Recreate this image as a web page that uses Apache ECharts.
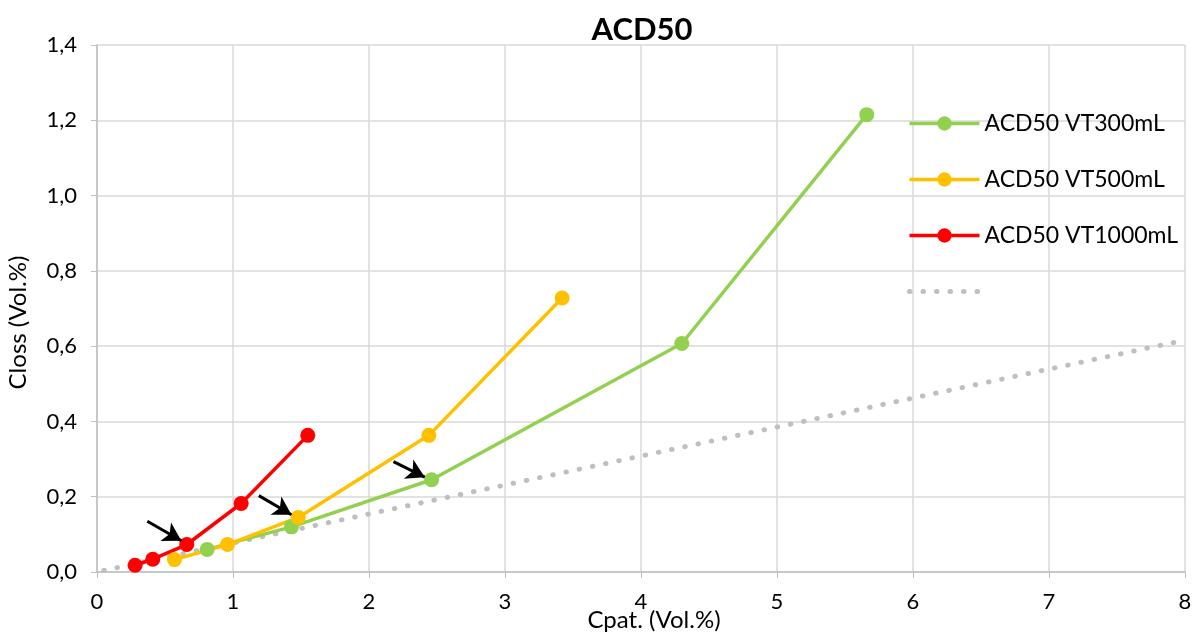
<!DOCTYPE html>
<html><head><meta charset="utf-8">
<script src="https://cdn.jsdelivr.net/npm/echarts@6/dist/echarts.min.js"></script>
<style>html,body{margin:0;padding:0;background:#fff}#c{width:1193px;height:636px}</style>
</head><body><div id="c"></div>
<script>
const seriesNames = ['ACD50 VT300mL', 'ACD50 VT500mL', 'ACD50 VT1000mL', ' '];
const vt300 = [[0.81, 0.06], [1.43, 0.12], [2.46, 0.245], [4.3, 0.607], [5.66, 1.215]];
const vt500 = [[0.57, 0.033], [0.96, 0.073], [1.48, 0.145], [2.44, 0.363], [3.42, 0.728]];
const vt1000 = [[0.28, 0.018], [0.41, 0.034], [0.66, 0.073], [1.06, 0.182], [1.55, 0.363]];
const refLine = [[0.05, 0.004], [8, 0.616]];
const arrows = [
  [[0.37, 0.135], [0.62, 0.083]],
  [[1.19, 0.203], [1.43, 0.152]],
  [[2.18, 0.293], [2.41, 0.252]]
];
const colors = ['#92d050', '#ffc000', '#ff0000', '#bfbfbf'];
const font = 'Lato, "Open Sans", sans-serif';

const chart = echarts.init(document.getElementById('c'));
const lineSeries = (name, data, color) => ({
  name, type: 'line', data, symbol: 'circle', symbolSize: 15,
  lineStyle: { color, width: 3.5 }, itemStyle: { color },
  z: 3
});
chart.setOption({
  animation: false,
  title: { text: 'ACD50', left: 637, textAlign: 'center', top: 9,
    textStyle: { fontFamily: font, fontSize: 31, fontWeight: 'bold', color: '#000' } },
  grid: { left: 97, right: 8, top: 45, bottom: 64, outerBoundsMode: 'none', containLabel: false },
  legend: {
    orient: 'vertical', left: 902, top: 107, itemWidth: 70, itemHeight: 18, itemGap: 33,
    textStyle: { fontFamily: font, fontSize: 23, color: '#000' },
    lineStyle: { width: 3.5 },
    data: seriesNames.slice(0, 3).concat([{ name: seriesNames[3], itemStyle: { color: 'transparent', opacity: 0 }, lineStyle: { width: 5 } }])
  },
  xAxis: {
    type: 'value', min: 0, max: 8, interval: 1,
    name: 'Cpat. (Vol.%)', nameLocation: 'middle', nameGap: 36, nameMoveOverlap: false,
    nameTextStyle: { fontFamily: font, fontSize: 24, color: '#000', padding: [0, 0, 0, 26] },
    axisLine: { lineStyle: { color: '#bfbfbf', width: 1.5 } },
    axisTick: { show: true, length: 6, lineStyle: { color: '#bfbfbf' } },
    axisLabel: { fontFamily: font, fontSize: 22, color: '#000', margin: 19 },
    splitLine: { show: true, lineStyle: { color: '#d9d9d9', width: 1.5 } }
  },
  yAxis: {
    type: 'value', min: 0, max: 1.4, interval: 0.2,
    name: 'Closs (Vol.%)', nameLocation: 'middle', nameGap: 67, nameRotate: 90, nameMoveOverlap: false,
    nameTextStyle: { fontFamily: font, fontSize: 24, color: '#000', padding: [0, 28, 0, 0] },
    axisLine: { show: true, lineStyle: { color: '#bfbfbf', width: 1.5 } },
    axisTick: { show: true, length: 6, lineStyle: { color: '#bfbfbf' } },
    axisLabel: { fontFamily: font, fontSize: 22, color: '#000', margin: 20,
      formatter: v => v.toFixed(1).replace('.', ',') },
    splitLine: { show: true, lineStyle: { color: '#d9d9d9', width: 1.5 } }
  },
  series: [
    lineSeries(seriesNames[0], vt300, colors[0]),
    lineSeries(seriesNames[1], vt500, colors[1]),
    Object.assign(lineSeries(seriesNames[2], vt1000, colors[2]), {
      markLine: {
        silent: true, symbol: ['none', 'arrow'], symbolSize: [16, 18],
        label: { show: false },
        lineStyle: { color: '#000', width: 3, type: 'solid' },
        data: arrows.map(a => [{ coord: a[0] }, { coord: a[1] }])
      }
    }),
    {
      name: seriesNames[3], type: 'line', data: refLine, symbol: 'none', z: 2,
      lineStyle: { color: colors[3], width: 5, type: [0.5, 13], cap: 'round' },
      itemStyle: { color: colors[3] }
    }
  ]
});
</script></body></html>
